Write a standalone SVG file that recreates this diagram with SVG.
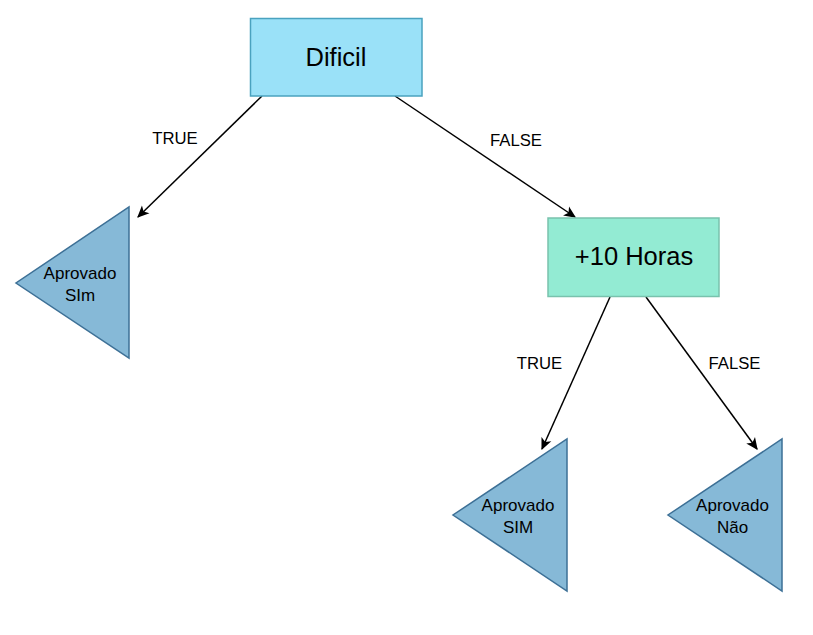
<svg xmlns="http://www.w3.org/2000/svg" width="813" height="635" viewBox="0 0 813 635">
<defs>
<style>
text{font-family:"Liberation Sans",Arial,sans-serif;fill:#000;text-anchor:middle}
.big{font-size:25.5px}
.leaf{font-size:17px}
.lbl{font-size:16.7px}
.tri{fill:#86b9d7;stroke:#3d7096;stroke-width:1.5}
.edge{stroke:#000;stroke-width:1.5;fill:none;marker-end:url(#arr)}
</style>
<marker id="arr" viewBox="0 0 10 10" refX="9" refY="5" markerWidth="12" markerHeight="12" markerUnits="userSpaceOnUse" orient="auto">
<path d="M0,0.5 L10,5 L0,9.5 L2.5,5 Z" fill="#000"/>
</marker>
</defs>
<rect width="813" height="635" fill="#fff"/>
<g id="connectors">
<line class="edge" x1="262" y1="96" x2="138" y2="217"/>
<line class="edge" x1="395" y1="96" x2="575" y2="217"/>
<line class="edge" x1="610" y1="297" x2="542" y2="449"/>
<line class="edge" x1="646" y1="297" x2="757" y2="449"/>
<text class="lbl" x="175" y="144">TRUE</text>
<text class="lbl" x="516" y="146">FALSE</text>
<text class="lbl" x="539.5" y="369">TRUE</text>
<text class="lbl" x="734.5" y="369">FALSE</text>
</g>
<g id="dificil">
<rect x="250.5" y="18.5" width="171.5" height="77.5" fill="#9ae1f8" stroke="#4aa2bf" stroke-width="1.5"/>
<text class="big" x="336" y="66">Dificil</text>
</g>
<g id="horas">
<rect x="548" y="218" width="171" height="78.5" fill="#93ebd3" stroke="#79c2ad" stroke-width="1.5"/>
<text class="big" x="634" y="265">+10 Horas</text>
</g>
<g id="leaf1">
<polygon class="tri" points="129,207 129,358 16,283"/>
<text class="leaf" x="80" y="279">Aprovado</text>
<text class="leaf" x="80" y="301">SIm</text>
</g>
<g id="leaf2">
<polygon class="tri" points="567,439 567,591 453,515"/>
<text class="leaf" x="518" y="511">Aprovado</text>
<text class="leaf" x="518" y="533">SIM</text>
</g>
<g id="leaf3">
<polygon class="tri" points="782,439 782,591 668,515"/>
<text class="leaf" x="732.5" y="511">Aprovado</text>
<text class="leaf" x="732.5" y="533">Não</text>
</g>
</svg>
